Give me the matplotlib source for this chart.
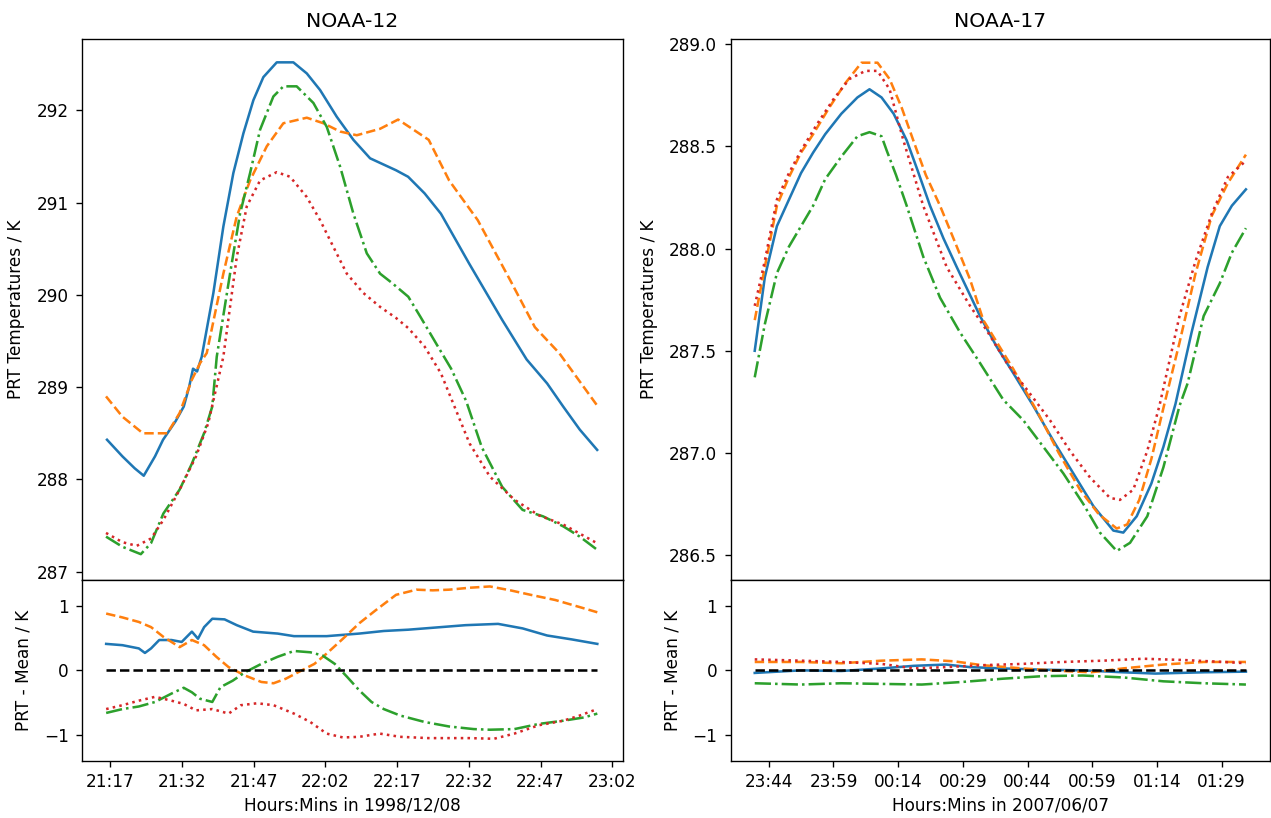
import numpy as np
import matplotlib
matplotlib.use("Agg")
import matplotlib.pyplot as plt
from matplotlib.ticker import FuncFormatter

# ------------------------------------------------------------------
# NOAA-12 (1998/12/08), time in minutes after 21:00
# ------------------------------------------------------------------
n12_blue_t = [16.33, 19.55, 22.13, 24.01, 26.37, 28.05, 30.66, 32.38, 33.49, 34.32, 35.16, 36.14,
              38.57, 40.66, 42.75, 44.85, 46.94, 49.03, 51.83, 55.30, 58.11, 60.89, 64.38, 67.86,
              71.35, 73.44, 76.79, 79.30, 82.75, 86.16, 92.06, 98.96, 104.09, 108.38, 111.73,
              115.20, 118.84]
n12_blue_v = [288.43, 288.25, 288.12, 288.04, 288.25, 288.43, 288.63, 288.79, 289.0, 289.2, 289.17,
              289.33, 290.02, 290.74, 291.32, 291.75, 292.11, 292.36, 292.52, 292.52, 292.40, 292.22,
              291.93, 291.68, 291.48, 291.43, 291.35, 291.28, 291.1, 290.88, 290.34, 289.73, 289.3,
              289.04, 288.79, 288.54, 288.32]

n12_orange_t = [16.12, 19.55, 23.84, 28.95, 31.52, 34.07, 35.79, 37.19, 40.66, 43.46, 46.25, 49.74,
                53.21, 58.11, 61.58, 65.08, 68.57, 73.44, 77.21, 80.14, 83.61, 87.88, 93.86,
                100.64, 105.81, 110.89, 118.71]
n12_orange_v = [288.9, 288.68, 288.5, 288.5, 288.72, 289.08, 289.26, 289.37, 290.23, 290.85, 291.24,
                291.61, 291.86, 291.92, 291.86, 291.77, 291.73, 291.8, 291.9, 291.8, 291.68,
                291.24, 290.81, 290.16, 289.65, 289.37, 288.81]

n12_green_t = [16.12, 19.55, 23.40, 25.54, 28.11, 31.52, 34.07, 36.62, 38.34, 39.28, 42.06, 44.15,
               46.25, 48.34, 51.12, 53.21, 56.00, 59.49, 62.29, 65.08, 67.86, 70.66, 73.44, 75.91,
               79.34, 81.90, 85.31, 88.30, 91.44, 94.70, 98.97, 103.23, 107.52, 111.79, 115.20,
               118.78]
n12_green_v = [287.38, 287.27, 287.19, 287.31, 287.63, 287.89, 288.17, 288.5, 288.79, 289.33, 290.23,
               290.88, 291.32, 291.79, 292.15, 292.26, 292.26, 292.08, 291.82, 291.39, 290.88,
               290.45, 290.23, 290.13, 289.98, 289.76, 289.46, 289.2, 288.85, 288.35, 287.92,
               287.67, 287.6, 287.49, 287.38, 287.24]

n12_red_t = [16.12, 19.55, 22.54, 25.54, 28.11, 31.52, 34.95, 37.50, 40.66, 43.46, 45.56, 48.34,
             51.83, 54.62, 58.11, 60.89, 63.67, 66.48, 69.95, 73.44, 76.77, 79.34, 82.75, 86.16,
             89.55, 92.15, 96.41, 101.54, 106.67, 111.79, 118.78]
n12_red_v = [287.42, 287.32, 287.28, 287.36, 287.56, 287.89, 288.25, 288.61, 289.33, 290.41, 290.96,
             291.24, 291.33, 291.28, 291.06, 290.81, 290.52, 290.23, 290.02, 289.87, 289.75,
             289.64, 289.44, 289.15, 288.72, 288.39, 288.03, 287.78, 287.61, 287.51, 287.31]

# differences from the mean
n12_dblue_t = [16.15, 19.56, 22.98, 24.26, 25.54, 27.25, 29.81, 31.95, 34.08, 35.36, 36.64, 38.35,
               40.91, 43.47, 46.89, 52.01, 55.43, 62.26, 69.09, 74.21, 79.34, 86.17, 91.29, 98.12,
               103.25, 108.37, 113.49, 118.87]
n12_dblue_v = [0.41, 0.39, 0.34, 0.27, 0.34, 0.47, 0.47, 0.44, 0.60, 0.49, 0.67, 0.80, 0.79, 0.70,
               0.60, 0.57, 0.53, 0.53, 0.57, 0.61, 0.63, 0.67, 0.70, 0.72, 0.65, 0.54, 0.48, 0.41]

n12_dorange_t = [16.15, 19.56, 22.98, 25.54, 28.10, 31.52, 34.08, 36.64, 39.20, 41.76, 45.18, 48.60,
                 51.16, 53.72, 56.28, 59.70, 62.26, 65.67, 69.09, 72.50, 76.77, 81.04, 84.46, 87.88,
                 92.14, 96.41, 100.68, 104.95, 110.08, 115.20, 118.87]
n12_dorange_v = [0.88, 0.82, 0.75, 0.67, 0.52, 0.36, 0.47, 0.39, 0.21, 0.05, -0.08, -0.18, -0.20,
                 -0.13, -0.03, 0.10, 0.26, 0.49, 0.73, 0.93, 1.17, 1.25, 1.24, 1.25, 1.28, 1.30, 1.24,
                 1.17, 1.09, 0.98, 0.90]

n12_dgreen_t = [16.15, 19.56, 22.98, 26.39, 29.81, 32.37, 34.08, 35.79, 38.35, 40.06, 42.62, 45.18,
                48.60, 52.01, 55.43, 58.84, 61.40, 63.97, 66.53, 69.09, 71.65, 74.21, 77.63, 82.75,
                87.88, 93.00, 96.41, 101.54, 106.66, 111.79, 116.05, 118.87]
n12_dgreen_v = [-0.66, -0.60, -0.56, -0.49, -0.36, -0.27, -0.34, -0.44, -0.49, -0.26, -0.16, -0.03,
                0.10, 0.21, 0.30, 0.28, 0.23, 0.10, -0.10, -0.31, -0.49, -0.60, -0.70, -0.80, -0.87,
                -0.91, -0.92, -0.91, -0.83, -0.78, -0.73, -0.67]

n12_dred_t = [16.15, 19.56, 22.98, 26.39, 29.81, 32.37, 34.93, 38.35, 41.76, 44.33, 47.74, 51.16,
              55.43, 58.84, 62.26, 65.67, 69.09, 73.36, 77.63, 83.60, 92.14, 97.27, 101.54, 106.66,
              111.79, 115.20, 118.87]
n12_dred_v = [-0.60, -0.54, -0.47, -0.41, -0.47, -0.52, -0.62, -0.60, -0.67, -0.54, -0.51, -0.54,
              -0.67, -0.80, -0.98, -1.04, -1.03, -0.98, -1.03, -1.05, -1.05, -1.06, -0.98, -0.85,
              -0.78, -0.70, -0.60]

# ------------------------------------------------------------------
# NOAA-17 (2007/06/07), time in minutes after 23:00 (of the day before)
# ------------------------------------------------------------------
n17_blue_t = [40.74, 43.08, 45.88, 48.68, 51.48, 54.28, 57.08, 60.81, 64.55, 67.35, 70.14, 72.95,
              75.97, 78.55, 81.38, 84.50, 87.57, 92.97, 96.84, 100.70, 105.33, 109.97, 114.60,
              119.24, 123.88, 126.19, 129.30, 132.69, 135.49, 138.29, 142.02, 145.75, 148.56,
              151.36, 154.62]
n17_blue_v = [287.50, 287.86, 288.11, 288.24, 288.37, 288.47, 288.56, 288.66, 288.74, 288.78, 288.74,
              288.66, 288.53, 288.38, 288.21, 288.05, 287.91, 287.67, 287.52, 287.39, 287.23, 287.06,
              286.90, 286.74, 286.62, 286.61, 286.69, 286.85, 287.03, 287.24, 287.59, 287.91,
              288.11, 288.21, 288.29]

n17_orange_t = [40.74, 43.08, 45.88, 48.68, 51.48, 54.28, 58.01, 61.75, 65.48, 69.21, 72.01, 74.81,
                77.50, 80.41, 83.70, 87.20, 90.65, 93.73, 100.70, 106.55, 111.22, 116.15, 120.50,
                124.67, 127.09, 129.89, 132.69, 135.49, 139.22, 142.95, 146.69, 150.42, 154.62]
n17_orange_v = [287.65, 287.91, 288.21, 288.35, 288.47, 288.56, 288.69, 288.81, 288.91, 288.91,
                288.83, 288.69, 288.53, 288.36, 288.21, 288.03, 287.85, 287.65, 287.41, 287.19,
                287.0, 286.82, 286.70, 286.63, 286.65, 286.77, 286.97, 287.22, 287.54, 287.88,
                288.16, 288.32, 288.46]

n17_green_t = [40.74, 43.08, 45.88, 48.68, 51.48, 54.28, 57.08, 60.81, 64.55, 67.35, 70.14, 71.34,
               73.50, 75.97, 79.82, 83.70, 88.33, 92.97, 98.37, 103.00, 107.65, 112.28, 116.92,
               120.78, 124.67, 127.75, 131.75, 135.49, 139.22, 141.09, 144.82, 148.56, 151.36,
               154.62]
n17_green_v = [287.37, 287.63, 287.88, 288.01, 288.11, 288.21, 288.34, 288.45, 288.55, 288.57,
               288.55, 288.48, 288.36, 288.21, 287.96, 287.76, 287.59, 287.44, 287.26, 287.16,
               287.03, 286.90, 286.75, 286.61, 286.52, 286.56, 286.69, 286.93, 287.23, 287.34,
               287.67, 287.83, 287.98, 288.10]

n17_red_t = [40.74, 43.08, 45.88, 48.68, 51.48, 55.21, 58.95, 62.68, 66.41, 69.21, 72.01, 75.20,
             79.80, 85.24, 90.65, 94.52, 99.16, 104.56, 109.20, 113.84, 118.47, 123.10, 125.40,
             128.50, 131.75, 134.56, 139.22, 142.95, 146.69, 150.42, 154.62]
n17_red_v = [287.72, 287.94, 288.24, 288.37, 288.48, 288.61, 288.73, 288.83, 288.87, 288.87, 288.78,
             288.53, 288.21, 287.91, 287.72, 287.60, 287.44, 287.29, 287.16, 287.01, 286.88,
             286.78, 286.77, 286.82, 287.01, 287.23, 287.67, 287.94, 288.17, 288.35, 288.43]

n17_dblue_t = [40.74, 51.48, 60.81, 70.14, 77.61, 85.08, 90.68, 98.15, 107.48, 116.82, 126.15,
               133.62, 144.82, 154.62]
n17_dblue_v = [-0.04, 0.0, -0.01, 0.03, 0.07, 0.09, 0.05, 0.03, 0.01, 0.0, -0.03, -0.05, -0.03, -0.02]

n17_dorange_t = [40.74, 51.48, 60.81, 70.14, 79.48, 86.95, 93.48, 102.82, 112.15, 118.69, 126.15,
                 135.49, 144.82, 154.62]
n17_dorange_v = [0.13, 0.13, 0.11, 0.15, 0.17, 0.14, 0.08, 0.03, -0.01, -0.03, 0.03, 0.09, 0.13, 0.13]

n17_dgreen_t = [40.74, 51.48, 60.81, 70.14, 79.48, 88.82, 98.15, 107.48, 116.82, 126.15, 135.49,
                144.82, 154.62]
n17_dgreen_v = [-0.20, -0.22, -0.20, -0.21, -0.22, -0.18, -0.13, -0.09, -0.08, -0.11, -0.17, -0.20,
                -0.22]

n17_dred_t = [40.74, 51.48, 60.81, 70.14, 77.61, 85.08, 93.48, 102.82, 112.15, 121.49, 130.82,
              140.16, 149.49, 154.62]
n17_dred_v = [0.17, 0.15, 0.13, 0.10, 0.03, 0.05, 0.08, 0.10, 0.13, 0.15, 0.18, 0.16, 0.13, 0.11]

n12_ticks = [17, 32, 47, 62, 77, 92, 107, 122]
n17_ticks = [44, 59, 74, 89, 104, 119, 134, 149]

# ------------------------------------------------------------------
s = 1.22
plt.rcParams.update({
    "font.size": 10 * s,
    "axes.titlesize": 12 * s,
    "axes.labelsize": 10 * s,
    "xtick.labelsize": 10 * s,
    "ytick.labelsize": 10 * s,
    "lines.linewidth": 1.5 * s,
    "axes.linewidth": 0.8 * s,
    "xtick.major.size": 3.5 * s,
    "ytick.major.size": 3.5 * s,
    "xtick.major.width": 0.8 * s,
    "ytick.major.width": 0.8 * s,
    "xtick.major.pad": 3.5 * s,
    "ytick.major.pad": 5.5,
})


def hhmm(base_hour):
    def f(v, pos):
        m = int(round(v))
        return f"{(base_hour + m // 60) % 24:02d}:{m % 60:02d}"
    return FuncFormatter(f)


fig = plt.figure(figsize=(12.71, 8.18), dpi=100)

panels = [
    dict(x0=0.06475, w=0.42518, title="NOAA-12", base=21, ticks=n12_ticks,
         xlim=(11.16, 124.18), ylim=(286.91, 292.773), date="1998/12/08", yfmt="{:.0f}",
         yticks=[287, 288, 289, 290, 291, 292],
         top=[(n12_blue_t, n12_blue_v), (n12_orange_t, n12_orange_v),
              (n12_green_t, n12_green_v), (n12_red_t, n12_red_v)],
         bot=[(n12_dblue_t, n12_dblue_v), (n12_dorange_t, n12_dorange_v),
              (n12_dgreen_t, n12_dgreen_v), (n12_dred_t, n12_dred_v)],
         zero=(16.15, 118.87)),
    dict(x0=0.57490, w=0.42431, title="NOAA-17", base=23, ticks=n17_ticks,
         xlim=(35.17, 160.2), ylim=(286.378, 289.026), date="2007/06/07", yfmt="{:.1f}",
         yticks=[286.5, 287.0, 287.5, 288.0, 288.5, 289.0],
         top=[(n17_blue_t, n17_blue_v), (n17_orange_t, n17_orange_v),
              (n17_green_t, n17_green_v), (n17_red_t, n17_red_v)],
         bot=[(n17_dblue_t, n17_dblue_v), (n17_dorange_t, n17_dorange_v),
              (n17_dgreen_t, n17_dgreen_v), (n17_dred_t, n17_dred_v)],
         zero=(40.74, 154.62)),
]

styles = [("C0", "-"), ("C1", "--"), ("C2", "-."), ("C3", ":")]

for p in panels:
    ax_top = fig.add_axes([p["x0"], 0.29095, p["w"], 0.66137])
    ax_bot = fig.add_axes([p["x0"], 0.07005, p["w"], 0.2209], sharex=ax_top)

    for (t, v), (c, ls) in zip(p["top"], styles):
        ax_top.plot(t, v, color=c, linestyle=ls)
    for (t, v), (c, ls) in zip(p["bot"], styles):
        ax_bot.plot(t, v, color=c, linestyle=ls)
    ax_bot.plot(p["zero"], [0, 0], color="black", linestyle="--")

    ax_top.set_title(p["title"], pad=8.9)
    ax_top.set_ylabel("PRT Temperatures / K", labelpad=8)
    ax_top.set_ylim(*p["ylim"])
    ax_top.set_yticks(p["yticks"])
    ax_top.set_yticklabels([p["yfmt"].format(y) for y in p["yticks"]])
    ax_top.tick_params(axis="x", bottom=False, labelbottom=False)

    ax_bot.set_ylabel("PRT - Mean / K", labelpad=8)
    ax_bot.set_ylim(-1.4, 1.4)
    ax_bot.set_yticks([-1, 0, 1])
    ax_bot.set_xticks(p["ticks"])
    ax_bot.xaxis.set_major_formatter(hhmm(p["base"]))
    ax_bot.set_xlim(*p["xlim"])
    ax_bot.set_xlabel("Hours:Mins in " + p["date"])

fig.savefig("out.png", dpi=100)
